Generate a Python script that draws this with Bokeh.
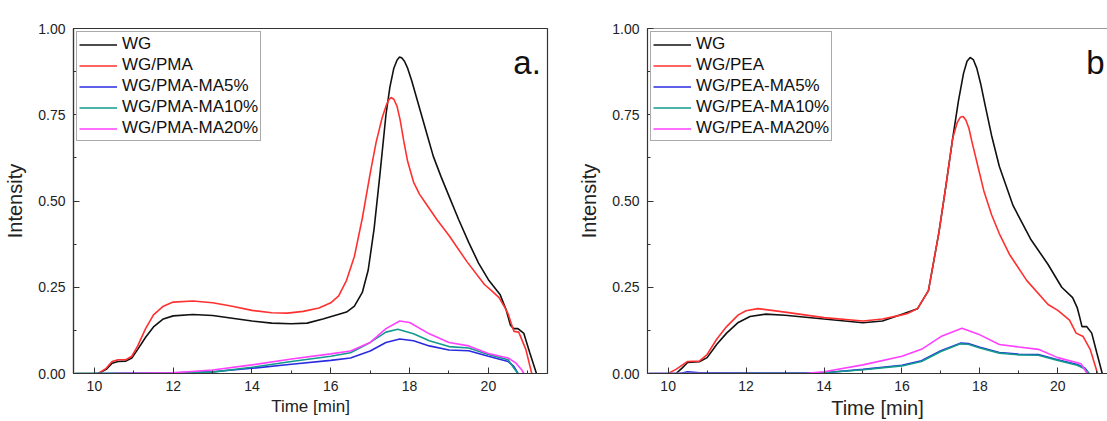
from bokeh.plotting import figure
from bokeh.layouts import row
from bokeh.models import (Legend, LegendItem, Label, Span, Range1d,
                          SingleIntervalTicker, NumeralTickFormatter)
from bokeh.embed import file_html
from bokeh.resources import INLINE

FONT = "Liberation Sans"

# ---- Panel a: WG blends with PMA ----
a_wg_t = [9.5, 10.1, 10.3, 10.45, 10.6, 10.8, 10.95, 11.1, 11.3, 11.5, 11.75, 12.0, 12.5, 13.0, 13.5, 14.0,
          14.5, 15.0, 15.4, 15.8, 16.1, 16.4, 16.6, 16.8, 16.95, 17.1, 17.25, 17.4, 17.5, 17.6, 17.68,
          17.74, 17.8, 17.87, 17.95, 18.05, 18.15, 18.3, 18.45, 18.6, 18.8, 19.0, 19.25, 19.5, 19.75,
          20.0, 20.15, 20.3, 20.45, 20.56, 20.64, 20.75, 20.9, 21.05, 21.22]
a_wg_i = [0.0, 0.0, 0.012, 0.03, 0.035, 0.036, 0.045, 0.07, 0.105, 0.135, 0.158, 0.167, 0.171, 0.168, 0.16, 0.152,
          0.146, 0.144, 0.146, 0.158, 0.168, 0.178, 0.195, 0.235, 0.3, 0.42, 0.58, 0.75, 0.83, 0.885, 0.908,
          0.917, 0.915, 0.905, 0.885, 0.85, 0.81, 0.75, 0.69, 0.63, 0.57, 0.514, 0.445, 0.38, 0.32,
          0.272, 0.25, 0.228, 0.185, 0.14, 0.13, 0.13, 0.116, 0.06, 0.0]

a_pma_t = [10.1, 10.3, 10.45, 10.6, 10.8, 10.95, 11.1, 11.3, 11.5, 11.75, 12.0, 12.5, 13.0, 13.5, 14.0, 14.5,
           14.9, 15.3, 15.7, 16.0, 16.2, 16.4, 16.6, 16.8, 17.0, 17.15, 17.3, 17.4, 17.47, 17.53, 17.6,
           17.68, 17.76, 17.85, 17.95, 18.1, 18.25, 18.4, 18.7, 19.0, 19.45, 19.9, 20.1, 20.27, 20.4,
           20.5, 20.58, 20.65, 20.77, 20.95, 21.1]
a_pma_i = [0.0, 0.015, 0.035, 0.04, 0.04, 0.05, 0.08, 0.13, 0.17, 0.195, 0.207, 0.21, 0.205, 0.195, 0.183, 0.176,
           0.175, 0.18, 0.19, 0.205, 0.225, 0.27, 0.34, 0.45, 0.58, 0.67, 0.74, 0.775, 0.793, 0.8, 0.795,
           0.775, 0.735, 0.675, 0.615, 0.555, 0.52, 0.495, 0.445, 0.40, 0.325, 0.258, 0.238, 0.22, 0.195,
           0.173, 0.145, 0.122, 0.12, 0.07, 0.0]

a_ma5_t = [10.0, 12.0, 13.0, 14.0, 15.0, 16.0, 16.5, 17.0, 17.4, 17.75, 18.1, 18.5, 19.0, 19.5, 20.0, 20.5, 20.65, 20.75]
a_ma5_i = [0.0, 0.002, 0.005, 0.015, 0.027, 0.038, 0.045, 0.065, 0.09, 0.1, 0.095, 0.08, 0.068, 0.066, 0.05, 0.035, 0.02, 0.0]

a_ma10_t = [9.5, 12.0, 13.0, 14.0, 15.0, 16.0, 16.5, 17.0, 17.4, 17.7, 18.1, 18.5, 19.0, 19.5, 20.0, 20.5, 20.65, 20.75]
a_ma10_i = [0.0, 0.001, 0.004, 0.018, 0.035, 0.05, 0.06, 0.09, 0.12, 0.128, 0.115, 0.095, 0.078, 0.074, 0.055, 0.04, 0.015, 0.0]

a_ma20_t = [10.5, 12.0, 13.0, 14.0, 15.0, 16.0, 16.5, 17.0, 17.4, 17.75, 18.0, 18.5, 19.0, 19.5, 20.0, 20.5, 20.7, 20.85, 20.9]
a_ma20_i = [0.0, 0.002, 0.01, 0.025, 0.042, 0.057, 0.065, 0.09, 0.13, 0.152, 0.148, 0.115, 0.09, 0.08, 0.058, 0.045, 0.03, 0.01, 0.0]

# ---- Panel b: WG blends with PEA ----
b_wg_t = [10.2, 10.35, 10.5, 10.8, 11.0, 11.25, 11.5, 11.8, 12.1, 12.5, 13.0, 14.0, 15.0, 15.5, 16.0, 16.4,
          16.68, 16.95, 17.13, 17.3, 17.45, 17.58, 17.67, 17.75, 17.83, 17.92, 18.02, 18.13, 18.3, 18.5,
          18.85, 19.3, 19.75, 20.1, 20.38, 20.5, 20.56, 20.62, 20.74, 20.87, 21.0, 21.14]
b_wg_i = [0.0, 0.015, 0.032, 0.034, 0.046, 0.085, 0.117, 0.148, 0.165, 0.172, 0.169, 0.158, 0.147, 0.152, 0.172, 0.188,
          0.24, 0.41, 0.545, 0.68, 0.79, 0.87, 0.905, 0.916, 0.91, 0.885, 0.84, 0.78, 0.69, 0.60,
          0.487, 0.39, 0.316, 0.25, 0.22, 0.19, 0.164, 0.136, 0.136, 0.117, 0.06, 0.0]

b_pea_t = [10.0, 10.2, 10.5, 10.8, 11.0, 11.25, 11.5, 11.8, 12.0, 12.3, 13.0, 14.0, 15.0, 15.5, 16.0, 16.14,
           16.4, 16.68, 16.95, 17.13, 17.3, 17.42, 17.5, 17.57, 17.64, 17.72, 17.8, 17.95, 18.1, 18.3,
           18.5, 18.76, 19.2, 19.75, 20.0, 20.3, 20.47, 20.65, 20.83, 21.02]
b_pea_i = [0.0, 0.012, 0.035, 0.036, 0.055, 0.1, 0.136, 0.17, 0.182, 0.188, 0.178, 0.162, 0.152, 0.158, 0.17, 0.174,
           0.188, 0.24, 0.41, 0.545, 0.68, 0.728, 0.743, 0.745, 0.735, 0.71, 0.67, 0.60, 0.53, 0.46,
           0.405, 0.345, 0.27, 0.2, 0.183, 0.155, 0.117, 0.107, 0.07, 0.0]

b_ma5_t = [9.5, 10.3, 10.5, 10.8, 14.0, 15.0, 16.0, 16.5, 17.0, 17.5, 17.7, 18.0, 18.5, 19.0, 19.5, 20.0, 20.5, 20.7, 20.8]
b_ma5_i = [0.0, 0.0, 0.005, 0.002, 0.002, 0.012, 0.024, 0.037, 0.066, 0.088, 0.087, 0.076, 0.061, 0.056, 0.055, 0.04, 0.026, 0.015, 0.0]

b_ma10_t = [9.5, 14.0, 15.0, 16.0, 16.5, 17.0, 17.5, 17.7, 18.0, 18.5, 19.0, 19.5, 20.0, 20.5, 20.7, 20.8]
b_ma10_i = [0.0, 0.002, 0.011, 0.022, 0.035, 0.064, 0.086, 0.085, 0.074, 0.059, 0.054, 0.053, 0.038, 0.024, 0.013, 0.0]

b_ma20_t = [9.5, 13.5, 14.0, 15.0, 16.0, 16.5, 17.0, 17.54, 18.0, 18.5, 19.0, 19.5, 20.0, 20.5, 20.6, 20.75]
b_ma20_i = [0.0, 0.0, 0.005, 0.025, 0.05, 0.07, 0.107, 0.131, 0.112, 0.084, 0.077, 0.07, 0.046, 0.031, 0.028, 0.0]

COLORS = ["#111111", "#ff3030", "#2a2ae0", "#139a8e", "#ff40ff"]
A_NAMES = ["WG", "WG/PMA", "WG/PMA-MA5%", "WG/PMA-MA10%", "WG/PMA-MA20%"]
B_NAMES = ["WG", "WG/PEA", "WG/PEA-MA5%", "WG/PEA-MA10%", "WG/PEA-MA20%"]


def make_panel(series, names, tag, tag_x, width, x_end, border_left, border_right, border_top,
               border_bottom, x_label_size, full_outline):
    p = figure(width=width, height=421, output_backend="svg", toolbar_location=None,
               x_range=Range1d(9.47, x_end), y_range=Range1d(0.0, 1.0),
               min_border_left=border_left, min_border_right=border_right,
               min_border_top=border_top, min_border_bottom=border_bottom)
    p.background_fill_color = "white"
    p.border_fill_color = "white"
    p.xgrid.visible = False
    p.ygrid.visible = False
    if full_outline:
        p.outline_line_color = "#333333"
        p.outline_line_width = 1.2
    else:
        # right edge of this panel runs off the page, so only the top rule is drawn
        p.outline_line_color = None
        p.add_layout(Span(location=1.0, dimension="width", line_color="#333333", line_width=1.2))

    p.xaxis.ticker = SingleIntervalTicker(interval=2, num_minor_ticks=2)
    p.yaxis.ticker = SingleIntervalTicker(interval=0.25, num_minor_ticks=2)
    p.yaxis.formatter = NumeralTickFormatter(format="0.00")
    for ax in (p.xaxis, p.yaxis):
        ax.major_tick_in = 6
        ax.major_tick_out = 0
        ax.minor_tick_in = 3
        ax.minor_tick_out = 0
        ax.axis_line_color = "#333333"
        ax.axis_line_width = 1.2
        ax.major_tick_line_color = "#333333"
        ax.minor_tick_line_color = "#333333"
        ax.major_label_text_font = FONT
        ax.major_label_text_font_size = "14px"
        ax.major_label_text_color = "#222222"
        ax.axis_label_text_font = FONT
        ax.axis_label_text_font_style = "normal"
        ax.axis_label_text_color = "#222222"
    p.xaxis.axis_label = "Time [min]"
    p.xaxis.axis_label_text_font_size = x_label_size
    p.xaxis.major_label_standoff = 7
    p.xaxis.axis_label_standoff = 3
    p.yaxis.axis_label = "Intensity"
    p.yaxis.axis_label_text_font_size = "20px"
    p.yaxis.major_label_standoff = 8
    p.yaxis.axis_label_standoff = 9

    items = []
    for (t, v), name, color in zip(series, names, COLORS):
        r = p.line(t, v, line_color=color, line_width=1.6)
        items.append(LegendItem(label=name, renderers=[r]))
    legend = Legend(items=items, location="top_left")
    legend.margin = 3
    legend.padding = 2
    legend.spacing = 1
    legend.glyph_width = 38
    legend.glyph_height = 19
    legend.label_height = 19
    legend.label_standoff = 5
    legend.label_text_font = FONT
    legend.label_text_font_size = "17px"
    legend.label_text_color = "#111111"
    legend.border_line_color = "#555555"
    legend.border_line_width = 1
    legend.background_fill_alpha = 1.0
    p.add_layout(legend, "center")

    p.add_layout(Label(x=tag_x, y=0.955, text=tag, text_align="right",
                       text_baseline="top", text_font=FONT, text_font_size="33px",
                       text_color="#111111"))
    return p


pa = make_panel([(a_wg_t, a_wg_i), (a_pma_t, a_pma_i), (a_ma5_t, a_ma5_i),
                 (a_ma10_t, a_ma10_i), (a_ma20_t, a_ma20_i)],
                A_NAMES, "a.", 21.33, 575, 21.5, 73, 28, 23, 46, "17px", True)
pb = make_panel([(b_wg_t, b_wg_i), (b_pea_t, b_pea_i), (b_ma5_t, b_ma5_i),
                 (b_ma10_t, b_ma10_i), (b_ma20_t, b_ma20_i)],
                B_NAMES, "b", 21.2, 532, 21.275, 67, 0, 28, 45, "20px", False)

layout = row(pa, pb)
open("out.html", "w").write(file_html(layout, INLINE))
